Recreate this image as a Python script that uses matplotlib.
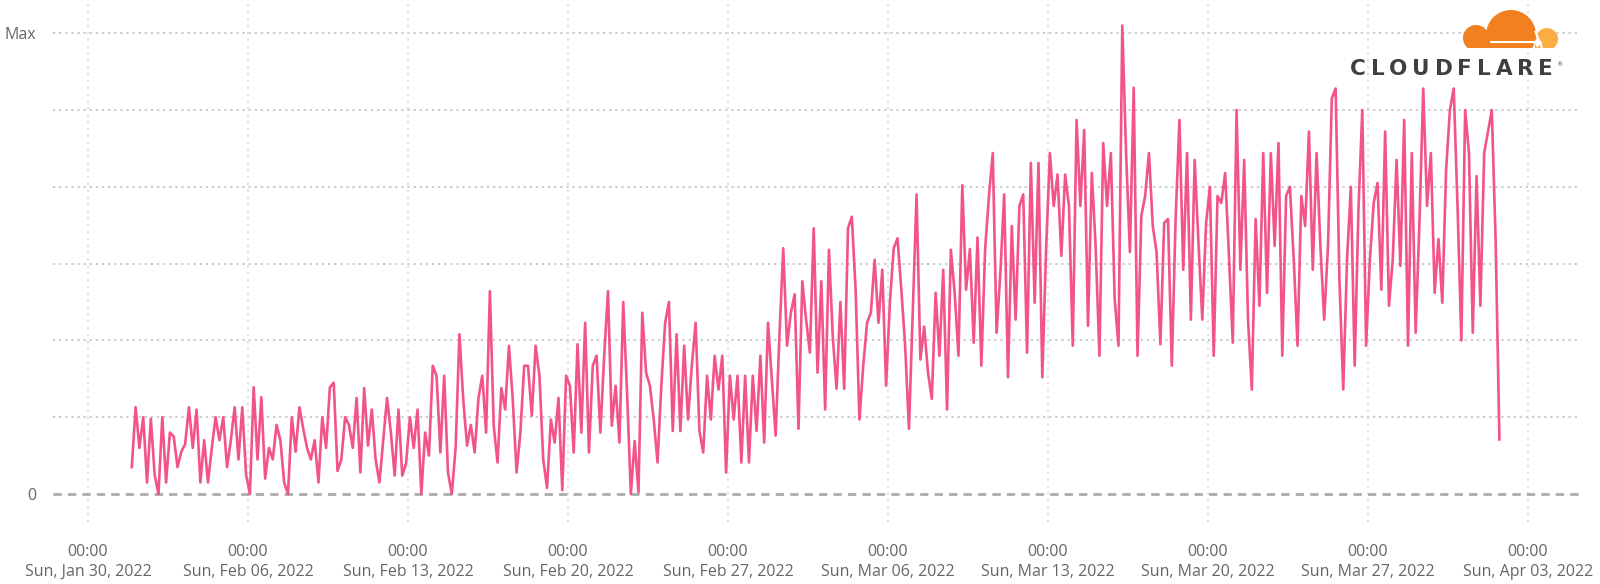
import pandas as pd
import matplotlib.pyplot as plt
import matplotlib.dates as mdates
from matplotlib.patches import Circle, Rectangle

# values, 4-hour steps, in grid units (Max = 6)
wk_jan30 = [0.35, 1.13, 0.6, 1.0, 0.15, 0.98,
            0.25, 0.0, 1.0, 0.15, 0.8, 0.75,
            0.35, 0.55, 0.65, 1.13, 0.6, 1.1,
            0.15, 0.7, 0.15, 0.6, 1.0, 0.7,
            1.0, 0.35, 0.7, 1.13, 0.45, 1.13]
wk_feb06 = [0.25, 0.0, 1.39, 0.45, 1.26, 0.2,
            0.6, 0.45, 0.9, 0.7, 0.15, 0.0,
            1.0, 0.55, 1.13, 0.85, 0.6, 0.45,
            0.7, 0.15, 1.0, 0.6, 1.39, 1.45,
            0.3, 0.45, 1.0, 0.9, 0.6, 1.25,
            0.28, 1.38, 0.63, 1.1, 0.45, 0.15,
            0.7, 1.25, 0.8, 0.24, 1.1, 0.24]
wk_feb13 = [0.4, 1.0, 0.6, 1.1, 0.0, 0.8,
            0.5, 1.67, 1.54, 0.54, 1.54, 0.28,
            0.0, 0.6, 2.08, 1.23, 0.63, 0.9,
            0.54, 1.25, 1.54, 0.8, 2.64, 0.89,
            0.41, 1.38, 1.1, 1.93, 1.23, 0.28,
            0.8, 1.67, 1.67, 1.02, 1.93, 1.54,
            0.45, 0.08, 0.97, 0.67, 1.25, 0.05]
wk_feb20 = [1.54, 1.41, 0.54, 1.95, 0.8, 2.23,
            0.54, 1.67, 1.8, 0.8, 1.8, 2.64,
            0.89, 1.41, 0.67, 2.5, 1.32, 0.0,
            0.69, 0.02, 2.36, 1.58, 1.41, 0.97,
            0.41, 1.41, 2.23, 2.5, 0.82, 2.08,
            0.82, 1.93, 0.97, 1.67, 2.23, 0.82,
            0.54, 1.54, 0.97, 1.8, 1.36, 1.8]
wk_feb27 = [0.28, 1.54, 0.97, 1.54, 0.41, 1.54,
            0.41, 1.54, 0.82, 1.8, 0.67, 2.23,
            1.5, 0.76, 2.06, 3.2, 1.93, 2.36,
            2.6, 0.85, 2.77, 2.27, 1.84, 3.46,
            1.58, 2.77, 1.1, 3.18, 2.05, 1.37,
            2.5, 1.37, 3.46, 3.61, 2.66, 0.97,
            1.67, 2.23, 2.36, 3.05, 2.23, 2.92]
wk_mar06 = [1.41, 2.5, 3.2, 3.33, 2.66, 1.93,
            0.85, 2.36, 3.9, 1.75, 2.18, 1.58,
            1.24, 2.62, 1.8, 2.92, 1.1, 3.18,
            2.62, 1.8, 4.02, 2.66, 3.19, 1.97,
            3.34, 1.67, 3.19, 3.88, 4.44, 2.1,
            2.88, 3.9, 1.52, 3.49, 2.27, 3.75,
            3.9, 1.84, 4.31, 2.49, 4.31, 1.52]
wk_mar13 = [3.19, 4.44, 3.75, 4.16, 3.1, 4.16,
            3.75, 1.93, 4.87, 3.75, 4.74, 2.19,
            4.18, 3.23, 1.8, 4.57, 3.75, 4.44,
            2.54, 1.93, 6.1, 4.44, 3.15, 5.29,
            1.8, 3.62, 3.88, 4.44, 3.49, 3.15,
            1.95, 3.53, 3.58, 1.67, 3.58, 4.87,
            2.92, 4.44, 2.27, 4.35, 3.27, 2.27]
wk_mar20 = [3.53, 4.0, 1.8, 3.88, 3.79, 4.18,
            3.1, 1.97, 5.0, 2.92, 4.35, 2.27,
            1.36, 3.58, 2.45, 4.44, 2.62, 4.44,
            3.23, 4.57, 1.8, 3.88, 4.0, 3.06,
            1.93, 3.88, 3.49, 4.72, 2.92, 4.44,
            3.23, 2.27, 3.23, 5.15, 5.28, 2.79,
            1.36, 3.06, 4.0, 1.67, 3.71, 5.0]
wk_mar27 = [1.93, 3.06, 3.79, 4.05, 2.66, 4.72,
            2.45, 3.06, 4.35, 2.97, 4.87, 1.93,
            4.44, 2.1, 3.53, 5.28, 3.75, 4.44,
            2.62, 3.32, 2.49, 4.22, 5.0, 5.28,
            3.75, 2.0, 5.0, 4.44, 2.1, 4.14,
            2.45, 4.44, 4.72, 5.0, 3.3, 0.71]

values = wk_jan30 + wk_feb06 + wk_feb13 + wk_feb20 + wk_feb27 + wk_mar06 + wk_mar13 + wk_mar20 + wk_mar27
times = pd.date_range("2022-01-31 22:00", periods=len(values), freq="4h")

tick_dates = pd.date_range("2022-01-30", "2022-04-03", freq="7D")
y_labels = ["0", "", "", "", "", "", "Max"]

W, H = 1600, 584
fig = plt.figure(figsize=(16, 5.84), dpi=100)
ax = fig.add_axes([53 / W, 1 - 522 / H, (1580 - 53) / W, 522 / H])

ax.plot(times, values, color="#f2538b", lw=1.9, zorder=3)

# grid
for k in range(1, 7):
    ax.axhline(k, color="#bdbdbd", lw=1.1, ls=(0, (1.5, 2.5)), zorder=1)
ax.axhline(0, color="#ababab", lw=2.0, ls=(0, (3, 2.2)), zorder=2)
for d in tick_dates:
    ax.axvline(d, color="#d6d6d6", lw=1.1, ls=(0, (1.5, 3)), zorder=1)

unit = 76.8
ax.set_ylim(-28 / unit, 494 / unit)
x0 = mdates.date2num(pd.Timestamp("2022-01-30"))
x1 = mdates.date2num(pd.Timestamp("2022-04-03"))
ax.set_xlim(x0 - 35 / 22.86, x1 + 52 / 22.86)

ax.set_xticks(tick_dates)
ax.set_xticklabels([d.strftime("%H:%M\n%a, %b %d, %Y") for d in tick_dates],
                   family="Open Sans", fontsize=11.5, color="#666666", linespacing=1.3)
ax.set_yticks(range(7))
ax.set_yticklabels(y_labels, family="Open Sans", fontsize=11.5, color="#666666")
ax.tick_params(axis="x", length=0, pad=16)
ax.tick_params(axis="y", length=0, pad=12)
for s in ax.spines.values():
    s.set_visible(False)

# logo: cloud drawn in pixel units, flat bottom = axes bottom (clipped)
logo = fig.add_axes([1455 / W, 1 - 48 / H, 110 / W, 43 / H])
logo.set_xlim(0, 110)
logo.set_ylim(0, 43)
logo.axis("off")
light = "#fbad41"
orange = "#f38020"
logo.add_patch(Circle((92, 9), 11, color=light, lw=0))
logo.add_patch(Rectangle((80, 0), 13, 10, color=light, lw=0))
logo.add_patch(Circle((21, 10), 13, color=orange, lw=0))
logo.add_patch(Circle((56, 13), 25, color=orange, lw=0))
logo.add_patch(Rectangle((21, 0), 40, 14, color=orange, lw=0))
logo.plot([80.5, 87], [16, 0], color="white", lw=1.6)
logo.plot([36, 82], [6, 6], color="white", lw=1.5, solid_capstyle="round")
logo.plot([82], [6], marker=(4, 1, 0), color="white", ms=6)

letters = "CLOUDFLARE"
renderer = fig.canvas.get_renderer()
texts = [fig.text(0, 1 - 75 / H, ch, family="DejaVu Sans", weight="bold",
                  fontsize=15.5, color="#404041", ha="left", va="baseline") for ch in letters]
widths = [t.get_window_extent(renderer).width for t in texts]
gap = (1553 - 1350 - sum(widths)) / (len(letters) - 1)
xpos = 1350
for t, w in zip(texts, widths):
    t.set_x(xpos / W)
    xpos += w + gap
fig.text(1556 / W, 1 - 66 / H, "®", family="DejaVu Sans", fontsize=4.5, color="#404041")

fig.savefig("out.png", dpi=100)
